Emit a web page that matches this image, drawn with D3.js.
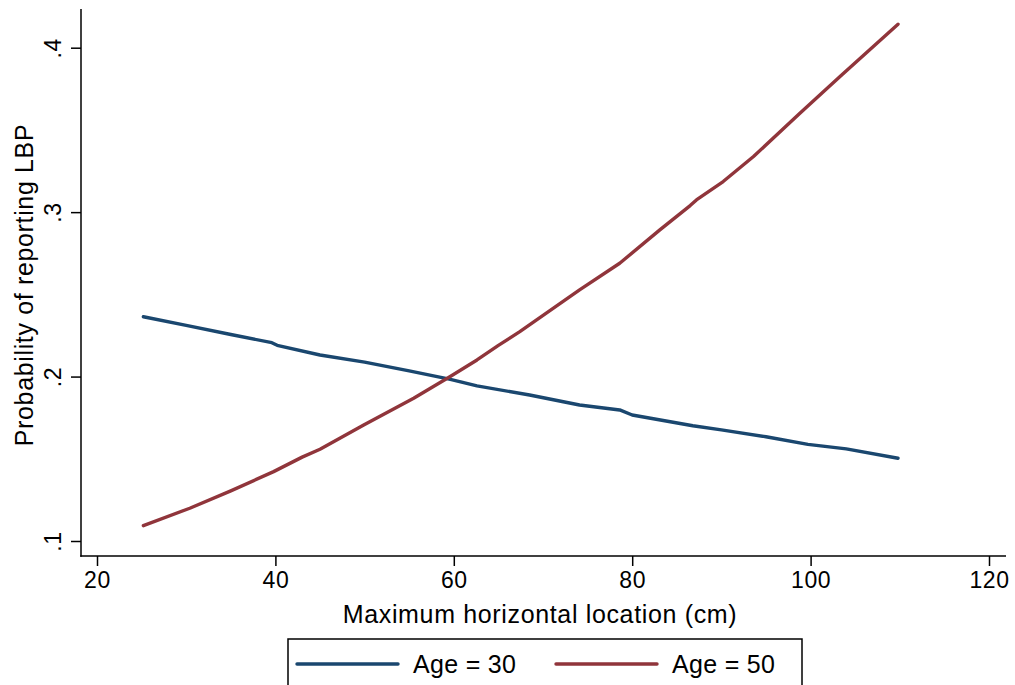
<!DOCTYPE html>
<html>
    <head>
        <meta charset="utf-8">
        <style>
            body {
                margin: 0;
                background: white;
            }
            text {
                font-family: "Liberation Sans", Arial, sans-serif;
                fill: black;
            }
            .tick text {
                font-size: 23px;
                letter-spacing: 0.6px;
            }
            .axis-title {
                font-size: 25px;
                letter-spacing: 0.65px;
            }
            .legend-label {
                font-size: 25px;
                letter-spacing: 0.3px;
            }
        </style>
        <script src="https://cdn.jsdelivr.net/npm/d3@7"></script>
    </head>
    <body>
        <div id="canvas"></div>
        <script>
            // predicted probability
            var x_age30 = [25.2, 30, 35, 39.6, 40.2, 45, 50, 55, 59.5, 62.6, 68.5, 74.1, 78.6, 80, 86.8, 90, 95, 99.7, 104, 109.8];
            var p_age30 = [0.2364, 0.2311, 0.2256, 0.2206, 0.2190, 0.2131, 0.2088, 0.2035, 0.1984, 0.1943, 0.1888, 0.1827, 0.1797, 0.1766, 0.1701, 0.1676, 0.1634, 0.1588, 0.1560, 0.1503];

            var x_age50 = [25.2, 30.4, 35, 39.8, 43, 45, 49.9, 55.5, 59.6, 62.6, 65, 67.4, 74.1, 78.6, 83.1, 86.5, 87.2, 90.2, 93.6, 98.8, 103.3, 109.8];
            var p_age50 = [0.1093, 0.1199, 0.1305, 0.1422, 0.1510, 0.1558, 0.1706, 0.1868, 0.2000, 0.2101, 0.2190, 0.2273, 0.2527, 0.2689, 0.2892, 0.3040, 0.3074, 0.3186, 0.3338, 0.3602, 0.3825, 0.4143];

            var series_names = ["Age = 30", "Age = 50"];
            var series_colors = ["#1a476f", "#90353b"];

            var x_ticks = [20, 40, 60, 80, 100, 120];
            var y_ticks = [0.1, 0.2, 0.3, 0.4];
            var y_tick_labels = [".1", ".2", ".3", ".4"];

            var x_title = "Maximum horizontal location (cm)";
            var y_title = "Probability of reporting LBP";

            var canvas_w = 1015;
            var canvas_h = 685;

            // plot region (axis lines)
            var axis_left = 81, axis_right = 1006;
            var axis_top = 9, axis_bottom = 556;

            var x = d3.scaleLinear().domain([20, 120]).range([97, 989]);
            var y = d3.scaleLinear().domain([0.1, 0.4]).range([541, 47.7]);

            var svg = d3.select("#canvas").append("svg")
                        .attr("width", canvas_w)
                        .attr("height", canvas_h);

            // x axis
            var x_axis = svg.append("g")
                            .attr("transform", "translate(0," + axis_bottom + ")")
                            .call(d3.axisBottom(x).tickValues(x_ticks).tickSize(10).tickPadding(6).tickSizeOuter(0));
            x_axis.select(".domain").remove();
            x_axis.selectAll(".tick line").attr("stroke", "black").attr("stroke-width", 1.5);

            // y axis, labels rotated like stata
            var y_axis = svg.append("g")
                            .attr("transform", "translate(" + axis_left + ",0)")
                            .call(d3.axisLeft(y).tickValues(y_ticks).tickSize(10)
                                    .tickFormat(function(d, i) { return y_tick_labels[i]; }));
            y_axis.select(".domain").remove();
            y_axis.selectAll(".tick line").attr("stroke", "black").attr("stroke-width", 1.5);
            y_axis.selectAll(".tick text")
                  .attr("x", null).attr("dy", null)
                  .attr("text-anchor", "middle")
                  .attr("transform", "translate(-20,0) rotate(-90)");

            // axis lines
            svg.append("line")
               .attr("x1", axis_left).attr("x2", axis_left)
               .attr("y1", axis_top).attr("y2", axis_bottom + 0.75)
               .attr("stroke", "black").attr("stroke-width", 1.5);
            svg.append("line")
               .attr("x1", axis_left - 0.75).attr("x2", axis_right)
               .attr("y1", axis_bottom).attr("y2", axis_bottom)
               .attr("stroke", "black").attr("stroke-width", 1.5);

            // titles
            svg.append("text").attr("class", "axis-title")
               .attr("x", 540).attr("y", 623)
               .attr("text-anchor", "middle")
               .text(x_title);
            svg.append("text").attr("class", "axis-title")
               .attr("text-anchor", "middle")
               .attr("transform", "translate(33,285) rotate(-90)")
               .text(y_title);

            // the two lines
            var line = d3.line()
                         .x(function(d) { return x(d[0]); })
                         .y(function(d) { return y(d[1]); });

            var series = [d3.zip(x_age30, p_age30), d3.zip(x_age50, p_age50)];

            svg.append("g").selectAll("path").data(series).enter().append("path")
               .attr("d", line)
               .attr("fill", "none")
               .attr("stroke", function(d, i) { return series_colors[i]; })
               .attr("stroke-width", 3.4)
               .attr("stroke-linecap", "round")
               .attr("stroke-linejoin", "round");

            // legend box, runs past the bottom edge
            var legend = svg.append("g");
            legend.append("rect")
                  .attr("x", 288).attr("y", 639)
                  .attr("width", 514).attr("height", 80)
                  .attr("fill", "white").attr("stroke", "black").attr("stroke-width", 1.5);

            var legend_x = [297, 556];
            legend.selectAll("line.key").data(series_names).enter().append("line")
                  .attr("class", "key")
                  .attr("x1", function(d, i) { return legend_x[i]; })
                  .attr("x2", function(d, i) { return legend_x[i] + 101; })
                  .attr("y1", 664).attr("y2", 664)
                  .attr("stroke", function(d, i) { return series_colors[i]; })
                  .attr("stroke-width", 3.4)
                  .attr("stroke-linecap", "round");
            legend.selectAll("text").data(series_names).enter().append("text")
                  .attr("class", "legend-label")
                  .attr("x", function(d, i) { return legend_x[i] + 116; })
                  .attr("y", 673)
                  .text(function(d) { return d; });
        </script>
    </body>
</html>
